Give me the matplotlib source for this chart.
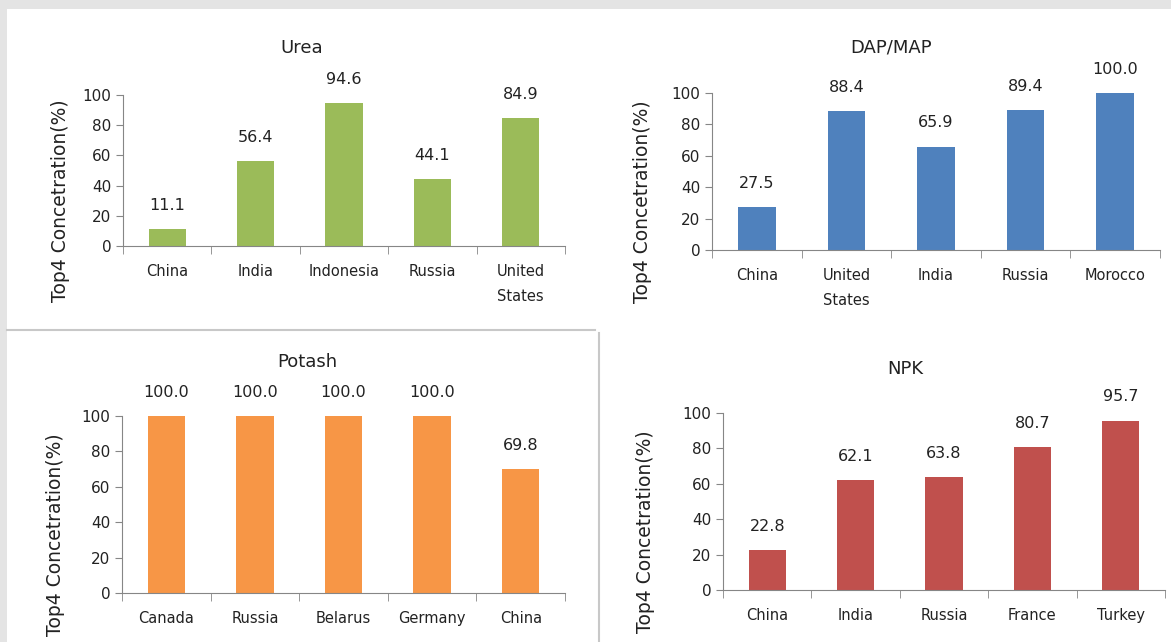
import matplotlib.pyplot as plt
from matplotlib.patches import Rectangle

# data
urea_countries = ["China", "India", "Indonesia", "Russia", "United\nStates"]
urea_values = [11.1, 56.4, 94.6, 44.1, 84.9]

dap_countries = ["China", "United\nStates", "India", "Russia", "Morocco"]
dap_values = [27.5, 88.4, 65.9, 89.4, 100.0]

potash_countries = ["Canada", "Russia", "Belarus", "Germany", "China"]
potash_values = [100.0, 100.0, 100.0, 100.0, 69.8]

npk_countries = ["China", "India", "Russia", "France", "Turkey"]
npk_values = [22.8, 62.1, 63.8, 80.7, 95.7]

W, H = 1171, 642
plt.rcParams['font.family'] = ['DejaVu Sans']

fig = plt.figure(figsize=(W / 100, H / 100), dpi=100)
fig.patch.set_facecolor('#e4e4e4')


def px_rect(x0, y0, x1, y1):
    # pixel box (top-left origin) -> figure fraction [l, b, w, h]
    return [x0 / W, 1 - y1 / H, (x1 - x0) / W, (y1 - y0) / H]


# background: white sheet with thin separators, in pixel coords
bg = fig.add_axes([0, 0, 1, 1], zorder=-10)
bg.set_xlim(0, W)
bg.set_ylim(H, 0)
bg.axis('off')
bg.add_patch(Rectangle((7, 9), W - 7, H - 9, facecolor='white', edgecolor='none'))
bg.plot([7, 595], [330, 330], color='#c8c8c8', lw=1.5)
bg.plot([599, 599], [333, H], color='#c8c8c8', lw=1.5)


def draw_panel(box, countries, values, color, title, title_xy, ylab_x):
    ax = fig.add_axes(px_rect(*box))
    ax.patch.set_alpha(0)
    x = range(len(countries))
    bars = ax.bar(x, values, width=0.42, color=color)
    ax.set_xlim(-0.5, len(countries) - 0.5)
    ax.set_ylim(0, 100)
    ax.set_yticks([0, 20, 40, 60, 80, 100])
    ax.set_xticks(x)
    ax.set_xticklabels(countries, fontsize=10.5, color='#222222', linespacing=1.85,
                       va='top')
    ax.set_xticks([i - 0.5 for i in range(len(countries) + 1)], minor=True)
    ax.tick_params(axis='x', which='major', length=0, pad=13)
    ax.tick_params(axis='x', which='minor', length=6, color='#868686', direction='out')
    ax.tick_params(axis='y', length=5, color='#868686', labelsize=11, labelcolor='#222222')
    for s in ['top', 'right']:
        ax.spines[s].set_visible(False)
    for s in ['left', 'bottom']:
        ax.spines[s].set_color('#868686')
    for b, v in zip(bars, values):
        ax.annotate("%.1f" % v, (b.get_x() + b.get_width() / 2, v),
                    xytext=(0, 17), textcoords='offset points',
                    ha='center', va='center', fontsize=11.5, color='#222222',
                    annotation_clip=False)
    fig.text(title_xy[0] / W, 1 - title_xy[1] / H, title, ha='center', va='center',
             fontsize=13, color='#222222')
    fig.text(ylab_x / W, 1 - (box[1] + box[3] + 60) / 2 / H, "Top4 Concetration(%)",
             rotation=90, ha='center', va='center', fontsize=13.5, color='#222222')
    return ax


draw_panel((123, 95, 565, 246), urea_countries, urea_values, '#9bbb59',
           "Urea", (302, 48), 60)
draw_panel((712, 93, 1160, 250), dap_countries, dap_values, '#4f81bd',
           "DAP/MAP", (891, 47), 642)
draw_panel((122, 416, 565, 593), potash_countries, potash_values, '#f79646',
           "Potash", (307, 362), 56)
draw_panel((723, 413, 1165, 590), npk_countries, npk_values, '#c0504d',
           "NPK", (905, 369), 645)

fig.savefig("out.png", dpi=100, facecolor=fig.get_facecolor())
